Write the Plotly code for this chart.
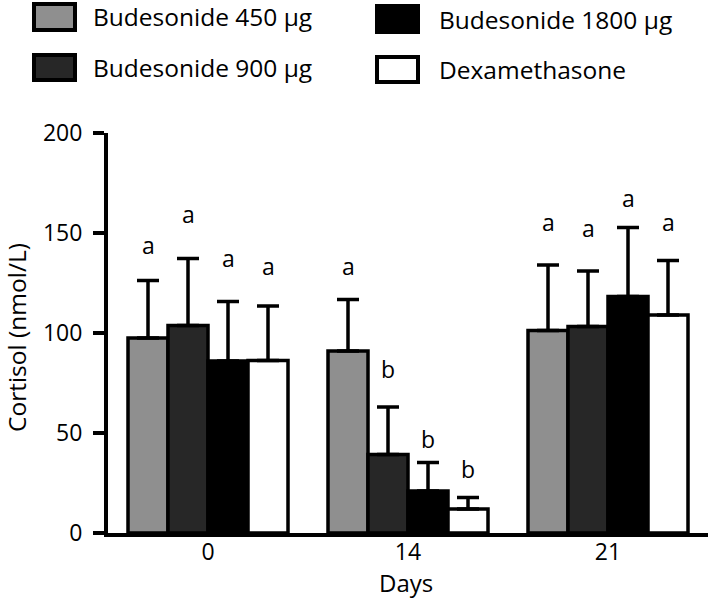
import plotly.graph_objects as go

# ---- data ----
days = ["0", "14", "21"]
series_names = ["Budesonide 450 µg", "Budesonide 900 µg", "Budesonide 1800 µg", "Dexamethasone"]
bud450_mean = [97.5, 91.0, 101.2]
bud900_mean = [103.7, 39.3, 103.2]
bud1800_mean = [86.0, 21.0, 118.2]
dexa_mean = [86.3, 12.0, 109.0]
bud450_sd = [28.7, 25.8, 32.8]
bud900_sd = [33.6, 23.7, 27.8]
bud1800_sd = [29.7, 14.2, 34.6]
dexa_sd = [27.2, 5.8, 27.2]
bud450_letters = ["a", "a", "a"]
bud900_letters = ["a", "b", "a"]
bud1800_letters = ["a", "b", "a"]
dexa_letters = ["a", "b", "a"]
bud450_letter_y = [144, 133.5, 155.5]
bud900_letter_y = [159.5, 82, 152.5]
bud1800_letter_y = [137.5, 47, 167.5]
dexa_letter_y = [133.5, 32, 155.5]
y_ticks = [0, 50, 100, 150, 200]

means = [bud450_mean, bud900_mean, bud1800_mean, dexa_mean]
sds = [bud450_sd, bud900_sd, bud1800_sd, dexa_sd]
letters = [bud450_letters, bud900_letters, bud1800_letters, dexa_letters]
letter_ys = [bud450_letter_y, bud900_letter_y, bud1800_letter_y, dexa_letter_y]
colors = ["#8f8f8f", "#272727", "#000000", "#ffffff"]

FONT = "Open Sans"
W, H = 709, 598
ML, MR, MT, MB = 108, 1, 133, 65
PW, PH = W - ML - MR, H - MT - MB

fig = go.Figure()
xpos = list(range(len(days)))
for i in range(4):
    fig.add_trace(go.Bar(
        x=xpos, y=means[i], name=series_names[i],
        marker=dict(color=colors[i], line=dict(color="black", width=3.5)),
        error_y=dict(type="data", array=sds[i], symmetric=False, arrayminus=[0] * 3,
                     color="black", thickness=3.5, width=11),
        showlegend=False,
    ))

# significance letters above bars
n = 4
bargap = 0.2
bw = (1 - bargap) / n
annotations = []
for i in range(n):
    for g in range(len(days)):
        xc = g - (1 - bargap) / 2 + bw * (i + 0.5)
        annotations.append(dict(x=xc, y=letter_ys[i][g], xref="x", yref="y",
                                text=letters[i][g], showarrow=False,
                                font=dict(family=FONT, size=23, color="black"),
                                xanchor="center", yanchor="middle"))

# helpers: page-pixel -> paper coords
def px_x(px):
    return (px - ML) / PW

def px_y(py):
    return (H - MB - py) / PH

legend_boxes = [(34, 4, 75, 30), (34, 55, 75, 80), (377, 6, 418, 32), (377, 57, 418, 82)]
legend_text_x = [91, 91, 437, 437]
shapes = []
for i in range(4):
    x0, y0, x1, y1 = legend_boxes[i]
    shapes.append(dict(type="rect", xref="paper", yref="paper",
                       x0=px_x(x0), x1=px_x(x1), y0=px_y(y1), y1=px_y(y0),
                       fillcolor=colors[i], line=dict(color="black", width=4)))
    annotations.append(dict(x=px_x(legend_text_x[i]), y=px_y((y0 + y1) / 2), xref="paper", yref="paper",
                            text=series_names[i], showarrow=False, xanchor="left", yanchor="middle",
                            font=dict(family=FONT, size=24.5, color="black")))

# axis titles
annotations.append(dict(x=px_x(16), y=px_y(338), xref="paper", yref="paper", text="Cortisol (nmol/L)",
                        textangle=-90, showarrow=False, xanchor="center", yanchor="middle",
                        font=dict(family=FONT, size=24.5, color="black")))
annotations.append(dict(x=px_x(406), y=px_y(582), xref="paper", yref="paper", text="Days",
                        showarrow=False, xanchor="center", yanchor="middle",
                        font=dict(family=FONT, size=24, color="black")))

fig.update_layout(
    width=W, height=H,
    margin=dict(l=ML, r=MR, t=MT, b=MB, autoexpand=False),
    paper_bgcolor="white", plot_bgcolor="white",
    barmode="group", bargap=bargap, bargroupgap=0,
    font=dict(family=FONT, size=22, color="black"),
    annotations=annotations, shapes=shapes,
    xaxis=dict(range=[-0.5, 2.5], tickvals=xpos, ticktext=days, showgrid=False, zeroline=False,
               showline=True, linecolor="black", linewidth=4, ticks="",
               tickfont=dict(family=FONT, size=23), ticklabelstandoff=-5, automargin=False),
    yaxis=dict(range=[0, 200], tickvals=y_ticks, showgrid=False, zeroline=False,
               showline=True, linecolor="black", linewidth=4, ticks="outside",
               ticklen=11, tickwidth=4, tickcolor="black", automargin=False,
               tickfont=dict(family=FONT, size=23), ticklabelstandoff=6),
)

fig.write_html("out.html", config={"displayModeBar": False},
               post_script="document.body.style.margin='0';document.body.style.overflow='hidden';")
